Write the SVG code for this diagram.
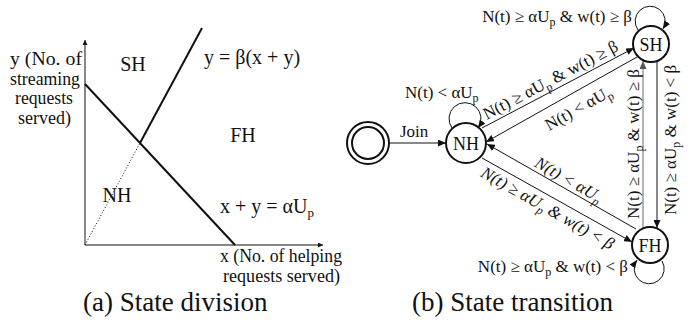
<svg xmlns="http://www.w3.org/2000/svg" width="700" height="325" viewBox="0 0 700 325">
<style>
text{font-family:"Liberation Serif","Times New Roman",serif;fill:#111;}
.l{font-size:19px;}
.eq{font-size:20px;}
.reg{font-size:20px;}
.lab{font-size:17px;}
.it{font-style:italic;}
.st{font-size:18px;text-anchor:middle;}
.cap{font-size:27px;}
.thin{stroke:#111;stroke-width:1;fill:none;}
.thick{stroke:#111;stroke-width:2;fill:none;}
.node{stroke:#111;stroke-width:2;fill:#fff;}
.tr{stroke:#111;stroke-width:1;fill:none;marker-end:url(#ah);}
.trg{stroke:#8a8a8a;stroke-width:1.3;fill:none;marker-end:url(#ahg);}
</style>
<defs>
<marker id="ah" markerUnits="userSpaceOnUse" markerWidth="9" markerHeight="7" refX="8" refY="3.5" orient="auto"><path d="M0,0 L8,3.5 L0,7 z" fill="#111"/></marker>
<marker id="ahg" markerUnits="userSpaceOnUse" markerWidth="9" markerHeight="7" refX="8" refY="3.5" orient="auto"><path d="M0,0 L8,3.5 L0,7 z" fill="#555"/></marker>
<marker id="ax" markerUnits="userSpaceOnUse" markerWidth="6" markerHeight="5" refX="5" refY="2.5" orient="auto"><path d="M0,0 L5,2.5 L0,5 z" fill="#111"/></marker>
</defs>

<!-- (a) State division -->
<g id="state-division">
<line x1="85" y1="245" x2="85" y2="40" class="thin" marker-end="url(#ax)"/>
<line x1="85" y1="245" x2="323" y2="245" class="thin" marker-end="url(#ax)"/>
<line x1="85" y1="84" x2="235" y2="245" class="thick"/>
<line x1="140" y1="143" x2="202" y2="28" class="thick"/>
<line x1="85" y1="245" x2="140" y2="143" stroke="#111" stroke-width="1" stroke-dasharray="1,2"/>
<text class="l" x="46" y="65" text-anchor="middle" textLength="72" lengthAdjust="spacingAndGlyphs">y (No. of</text>
<text class="l" x="45" y="85" text-anchor="middle" textLength="70" lengthAdjust="spacingAndGlyphs">streaming</text>
<text class="l" x="44" y="104" text-anchor="middle" textLength="58" lengthAdjust="spacingAndGlyphs">requests</text>
<text class="l" x="44.5" y="124" text-anchor="middle" textLength="53" lengthAdjust="spacingAndGlyphs">served)</text>
<text class="reg" x="133" y="71" text-anchor="middle">SH</text>
<text class="reg" x="243" y="142" text-anchor="middle">FH</text>
<text class="reg" x="117" y="202" text-anchor="middle">NH</text>
<text class="eq" x="204" y="64">y = β(x + y)</text>
<text class="eq" x="220" y="213">x + y = αU<tspan font-size="13" dy="4">p</tspan></text>
<text class="l" x="220" y="262" textLength="122" lengthAdjust="spacingAndGlyphs">x (No. of helping</text>
<text class="l" x="223" y="282" textLength="117" lengthAdjust="spacingAndGlyphs">requests served)</text>
</g>

<!-- (b) State transition -->
<g id="connectors">
<line x1="390" y1="143" x2="446" y2="143" class="tr"/>
<path d="M452,128 A16,16 0 1 1 478,128" class="tr"/>
<path d="M638,30 A15,15 0 1 1 663,29" class="tr"/>
<path d="M662,261 A15,15 0 1 1 637,260" class="tr"/>
<line x1="482" y1="128" x2="634" y2="48" class="tr"/>
<line x1="637" y1="57" x2="486" y2="142" class="tr"/>
<line x1="636" y1="229" x2="487" y2="144" class="tr"/>
<line x1="482" y1="158" x2="632" y2="242" class="tr"/>
<line x1="643" y1="228" x2="643" y2="61" class="trg"/>
<line x1="657" y1="61" x2="657" y2="228" class="tr"/>
</g>

<g id="edge-labels">
<text class="lab" x="405" y="98">N(t) &lt; αU<tspan font-size="12" dy="4">p</tspan></text>
<text class="lab" x="632" y="22" text-anchor="end">N(t) ≥ αU<tspan font-size="12" dy="4">p</tspan><tspan dy="-4"> &amp; w(t) ≥ β</tspan></text>
<text class="lab" x="628" y="272" text-anchor="end">N(t) ≥ αU<tspan font-size="12" dy="4">p</tspan><tspan dy="-4"> &amp; w(t) &lt; β</tspan></text>
<text class="lab" text-anchor="middle" transform="translate(553,85) rotate(-27.8)">N(t) ≥ αU<tspan font-size="12" dy="4">p</tspan><tspan dy="-4"> &amp; w(t) ≥ β</tspan></text>
<text class="lab" text-anchor="middle" transform="translate(581,113) rotate(-29.4)">N(t) &lt; αU<tspan font-size="12" dy="4">p</tspan></text>
<text class="lab it" text-anchor="middle" transform="translate(566,184.5) rotate(29.7)">N(t) &lt; αU<tspan font-size="12" dy="4">p</tspan></text>
<text class="lab it" text-anchor="middle" transform="translate(545,213) rotate(29.6)">N(t) ≥ αU<tspan font-size="12" dy="4">p</tspan><tspan dy="-4"> &amp; w(t) &lt; β</tspan></text>
<text class="lab" text-anchor="middle" transform="translate(639,144) rotate(-90)">N(t) ≥ αU<tspan font-size="12" dy="4">p</tspan><tspan dy="-4"> &amp; w(t) ≥ β</tspan></text>
<text class="lab" text-anchor="middle" transform="translate(676,140) rotate(-90)">N(t) ≥ αU<tspan font-size="12" dy="4">p</tspan><tspan dy="-4"> &amp; w(t) &lt; β</tspan></text>
<text class="lab" x="400" y="137">Join</text>
</g>

<g id="node-start">
<circle cx="368" cy="143" r="21" class="node"/>
<circle cx="368" cy="143" r="16" class="node"/>
</g>
<g id="node-NH">
<circle cx="466" cy="143" r="20" class="node"/>
<text class="st" x="466" y="149.5">NH</text>
</g>
<g id="node-SH">
<circle cx="651" cy="44" r="18" class="node"/>
<text class="st" x="651" y="50.5">SH</text>
</g>
<g id="node-FH">
<circle cx="650" cy="245" r="18" class="node"/>
<text class="st" x="650" y="251.5">FH</text>
</g>

<text class="cap" x="83" y="311">(a) State division</text>
<text class="cap" x="412" y="311">(b) State transition</text>
</svg>
